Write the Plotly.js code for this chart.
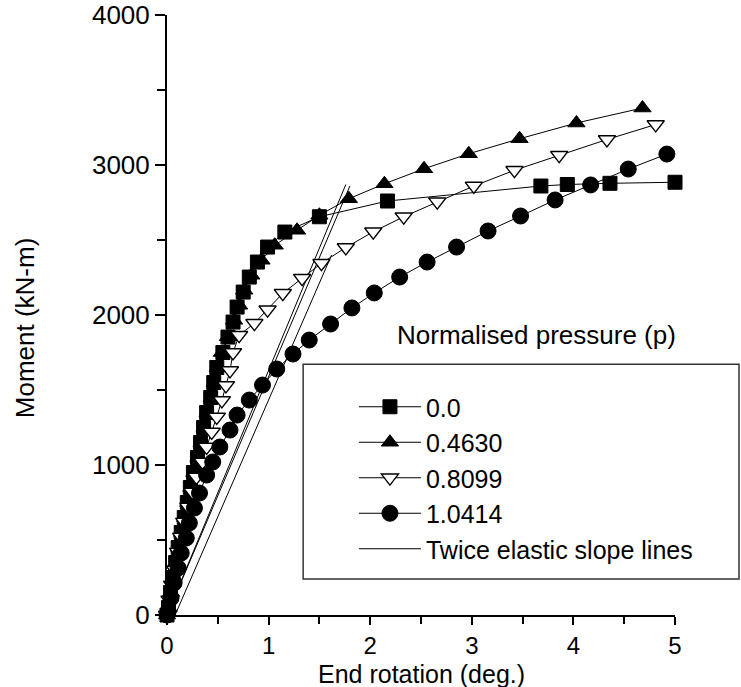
<!DOCTYPE html>
<html>
<head>
<meta charset="utf-8">
<script src="https://cdn.plot.ly/plotly-3.0.1.min.js"></script>
<style>html,body{margin:0;padding:0;background:#fff;}#chart{width:741px;height:687px;}</style>
</head>
<body>
<div id="chart"></div>
<script>
// Series: Normalised pressure p = 0.0 (squares)
const p00_rot = [0, 0.015, 0.035, 0.06, 0.085, 0.11, 0.14, 0.17, 0.20, 0.23, 0.26, 0.30, 0.33, 0.36, 0.39, 0.43, 0.46, 0.49, 0.55, 0.60, 0.65, 0.69, 0.75, 0.81, 0.89, 0.99, 1.16, 1.50, 2.17, 3.68, 3.94, 4.36, 5.00];
const p00_mom = [0, 50, 150, 250, 350, 450, 550, 650, 750, 850, 950, 1050, 1150, 1250, 1350, 1450, 1550, 1650, 1750, 1853, 1953, 2053, 2153, 2253, 2353, 2453, 2553, 2655, 2760, 2860, 2870, 2878, 2885];
// p = 0.4630 (filled triangles)
const p0463_rot = [0, 0.015, 0.04, 0.065, 0.09, 0.12, 0.15, 0.18, 0.21, 0.24, 0.27, 0.31, 0.34, 0.37, 0.40, 0.44, 0.47, 0.50, 0.54, 0.60, 0.66, 0.71, 0.76, 0.83, 0.93, 1.06, 1.28, 1.50, 1.79, 2.14, 2.53, 2.97, 3.47, 4.03, 4.68];
const p0463_mom = [0, 50, 150, 250, 350, 450, 550, 650, 750, 850, 950, 1050, 1150, 1250, 1350, 1450, 1550, 1650, 1750, 1855, 1965, 2065, 2165, 2265, 2365, 2465, 2565, 2665, 2775, 2875, 2975, 3075, 3175, 3280, 3380];
// p = 0.8099 (open down triangles)
const p0810_rot = [0, 0.025, 0.05, 0.08, 0.11, 0.14, 0.17, 0.21, 0.25, 0.29, 0.35, 0.39, 0.44, 0.49, 0.54, 0.58, 0.62, 0.65, 0.71, 0.86, 0.99, 1.14, 1.33, 1.52, 1.76, 2.03, 2.33, 2.66, 3.02, 3.42, 3.86, 4.33, 4.81];
const p0810_mom = [0, 100, 200, 300, 420, 520, 620, 720, 820, 920, 1020, 1120, 1220, 1320, 1430, 1530, 1630, 1750, 1865, 1945, 2035, 2145, 2245, 2345, 2450, 2555, 2655, 2755, 2860, 2965, 3065, 3170, 3270];
// p = 1.0414 (filled circles)
const p1041_rot = [0, 0.04, 0.07, 0.11, 0.14, 0.19, 0.22, 0.27, 0.32, 0.39, 0.45, 0.52, 0.62, 0.69, 0.81, 0.94, 1.08, 1.24, 1.40, 1.61, 1.82, 2.04, 2.29, 2.56, 2.85, 3.16, 3.48, 3.82, 4.17, 4.54, 4.92];
const p1041_mom = [0, 113, 213, 313, 413, 513, 613, 713, 813, 933, 1020, 1120, 1233, 1333, 1433, 1533, 1640, 1740, 1833, 1940, 2047, 2147, 2253, 2353, 2453, 2560, 2660, 2767, 2867, 2973, 3073];
// Twice elastic slope lines
const tes1_rot = [0, 1.76], tes1_mom = [0, 2870];
const tes2_rot = [0, 1.80], tes2_mom = [0, 2860];
const tes3_rot = [0.08, 1.62], tes3_mom = [0, 2400];

const seriesNames = ['0.0', '0.4630', '0.8099', '1.0414', 'Twice elastic slope lines'];
const xTickVals = [0, 1, 2, 3, 4, 5];
const yTickVals = [0, 1000, 2000, 3000, 4000];
const xTitle = 'End rotation (deg.)';
const yTitle = 'Moment (kN-m)';
const legendTitle = 'Normalised pressure (p)';

const FONT = 'Arial, "Liberation Sans", sans-serif';
const FS = 26;
const XTFS = 24;
const TFS = 25;
const LFS = 25;

const lineStyle = {color: 'black', width: 1};
const traces = [
  {x: tes1_rot, y: tes1_mom, mode: 'lines', line: lineStyle, name: seriesNames[4], legendgroup: 'tes', legendrank: 5, cliponaxis: false},
  {x: tes2_rot, y: tes2_mom, mode: 'lines', line: lineStyle, name: seriesNames[4], legendgroup: 'tes', showlegend: false, cliponaxis: false},
  {x: tes3_rot, y: tes3_mom, mode: 'lines', line: lineStyle, name: seriesNames[4], legendgroup: 'tes', showlegend: false, cliponaxis: false},
  {x: p0463_rot, y: p0463_mom, mode: 'lines+markers', name: seriesNames[1], legendrank: 2, cliponaxis: false,
   line: lineStyle, marker: {symbol: 'triangle-up', size: 15, color: 'black', line: {color: 'black', width: 1}}},
  {x: p00_rot, y: p00_mom, mode: 'lines+markers', name: seriesNames[0], legendrank: 1, cliponaxis: false,
   line: lineStyle, marker: {symbol: 'square', size: 14, color: 'black', line: {color: 'black', width: 1}}},
  {x: p0810_rot, y: p0810_mom, mode: 'lines+markers', name: seriesNames[2], legendrank: 3, cliponaxis: false,
   line: lineStyle, marker: {symbol: 'triangle-down', size: 15, color: 'white', line: {color: 'black', width: 1.3}}},
  {x: p1041_rot, y: p1041_mom, mode: 'lines+markers', name: seriesNames[3], legendrank: 4, cliponaxis: false,
   line: lineStyle, marker: {symbol: 'circle', size: 16, color: 'black', line: {color: 'black', width: 1}}}
];

const layout = {
  width: 741, height: 687,
  margin: {l: 167, r: 66, t: 15, b: 72, pad: 0},
  paper_bgcolor: 'white', plot_bgcolor: 'white',
  font: {family: FONT, size: FS, color: 'black'},
  showlegend: true,
  xaxis: {
    range: [0, 5], tickvals: xTickVals, ticktext: xTickVals.map(String),
    showgrid: false, zeroline: false, showline: true, linecolor: 'black', linewidth: 2,
    ticks: 'outside', ticklen: 8, tickwidth: 2, tickcolor: 'black',
    minor: {dtick: 0.5, tick0: 0, ticks: 'outside', ticklen: 7, tickwidth: 2, tickcolor: 'black', showgrid: false},
    tickfont: {family: FONT, size: XTFS}
  },
  yaxis: {
    range: [0, 4000], tickvals: yTickVals, ticktext: yTickVals.map(String),
    showgrid: false, zeroline: false, showline: true, linecolor: 'black', linewidth: 2,
    ticks: 'outside', ticklen: 10, tickwidth: 2, tickcolor: 'black',
    minor: {dtick: 500, tick0: 0, ticks: 'outside', ticklen: 8, tickwidth: 2, tickcolor: 'black', showgrid: false},
    tickfont: {family: FONT, size: FS}
  },
  legend: {
    x: 0.368, xanchor: 'left', y: 0.385, yanchor: 'top',
    bgcolor: 'rgba(0,0,0,0)', borderwidth: 0, itemwidth: 62,
    font: {family: FONT, size: LFS}, traceorder: 'normal'
  },
  shapes: [{
    type: 'rect', xref: 'paper', yref: 'paper',
    x0: 0.268, x1: 1.126, y0: 0.06, y1: 0.418,
    line: {color: '#333', width: 1.5}, fillcolor: 'rgba(0,0,0,0)', layer: 'below'
  }],
  annotations: [
    {text: legendTitle, xref: 'paper', yref: 'paper', x: 0.449, y: 0.467, xanchor: 'left', yanchor: 'middle',
     showarrow: false, font: {family: FONT, size: FS}},
    {text: xTitle, xref: 'paper', yref: 'paper', x: 0.5, y: -0.098, xanchor: 'center', yanchor: 'middle',
     showarrow: false, font: {family: FONT, size: TFS}},
    {text: yTitle, xref: 'paper', yref: 'paper', x: -0.2795, y: 0.478, xanchor: 'center', yanchor: 'middle',
     textangle: -90, showarrow: false, font: {family: FONT, size: FS}}
  ]
};

Plotly.newPlot('chart', traces, layout, {displayModeBar: false, staticPlot: true});
</script>
</body>
</html>
